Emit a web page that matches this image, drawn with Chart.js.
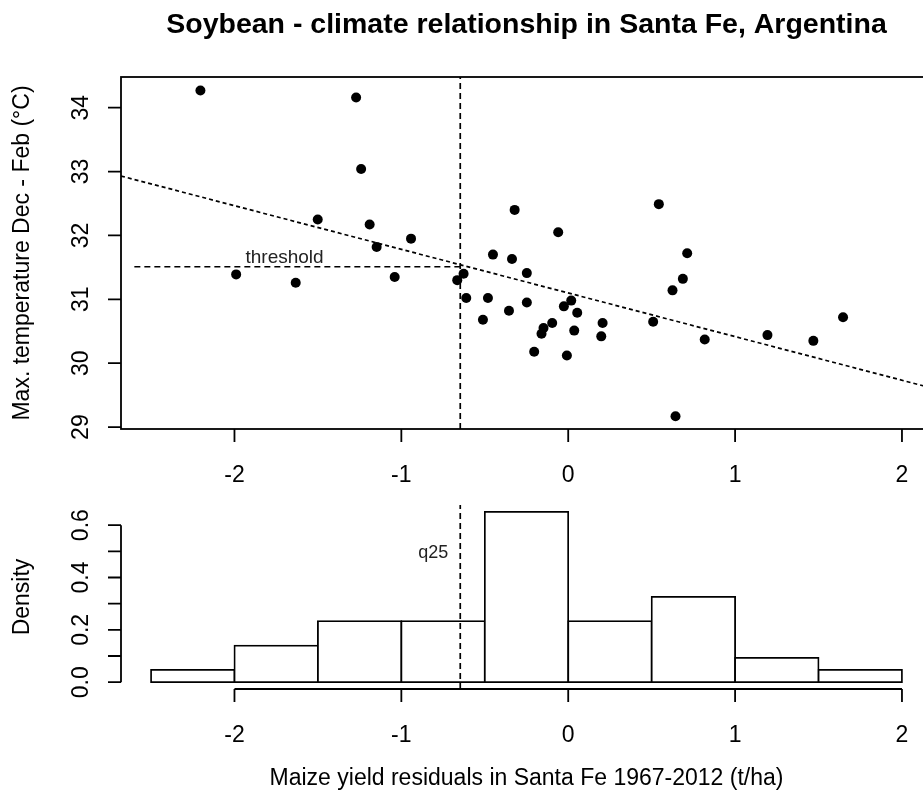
<!DOCTYPE html>
<html>
<head>
<meta charset="utf-8">
<title>Soybean - climate relationship in Santa Fe, Argentina</title>
<script src="https://cdn.jsdelivr.net/npm/chart.js@4.4.1/dist/chart.umd.min.js"></script>
<style>
  html, body { margin: 0; padding: 0; background: #fff; overflow: hidden; width: 923px; height: 808px; }
  canvas { position: absolute; left: 0; top: 0; }
</style>
</head>
<body>
<canvas id="scatter" width="940" height="808"></canvas>
<canvas id="hist" width="940" height="808"></canvas>
<script>
// Maize yield residuals (t/ha) and Dec-Feb maximum temperature (°C), one pair per season
const residuals = [
  -2.204, -1.271, -1.241, -1.501, -1.190, -1.148, -0.942, -1.990, -1.633, -1.040,
  -0.665, -0.627, -0.611, -0.481, -0.511, -0.355, -0.451, -0.337, -0.321, -0.248,
  -0.248, -0.060,  0.018, -0.026,  0.054, -0.096, -0.148, -0.160,  0.036, -0.204,
  -0.008,  0.206,  0.198,  0.543,  0.713,  0.687,  0.625,  0.509,  0.643,  0.818,
   1.194,  1.469,  1.647
];
const maxTemp = [
  34.27, 34.16, 33.04, 32.25, 32.17, 31.82, 31.95, 31.39, 31.26, 31.35,
  31.30, 31.40, 31.02, 31.02, 30.68, 30.82, 31.70, 31.63, 32.40, 31.41,
  30.95, 32.05, 30.98, 30.89, 30.79, 30.63, 30.55, 30.46, 30.51, 30.18,
  30.12, 30.63, 30.42, 32.49, 31.72, 31.32, 31.14, 30.65, 29.17, 30.37,
  30.44, 30.35, 30.72
];

// Histogram of the residuals (bin width 0.5)
const binCenters = [-2.25, -1.75, -1.25, -0.75, -0.25, 0.25, 0.75, 1.25, 1.75];
const density    = [0.047, 0.140, 0.233, 0.233, 0.651, 0.233, 0.326, 0.093, 0.047];

// Least-squares fit end points, lower-quartile residual and temperature threshold
const fitX = [-2.68, 2.18];
const fitY = [32.93, 29.61];
const q25 = -0.647;
const thresholdTemp = 31.51;
const thresholdStart = -2.60;

// Axis ranges and ticks
const xRange = [-2.68, 2.18];
const tempRange = [28.97, 34.48];
const densRange = [-0.026, 0.677];
const xTicks = [-2, -1, 0, 1, 2];
const xTickLabels = ['-2', '-1', '0', '1', '2'];
const tempTicks = [29, 30, 31, 32, 33, 34];
const tempTickLabels = ['29', '30', '31', '32', '33', '34'];
const densTicks = [0, 0.1, 0.2, 0.3, 0.4, 0.5, 0.6];
const densTickLabels = ['0.0', '', '0.2', '', '0.4', '', '0.6'];

const FONT = '"Liberation Sans", Arial, Helvetica, sans-serif';
const LW = 1.8;
const TICK = 13;

// R-style axis: a line from first to last tick, outward ticks, labels one line out
function drawBottomAxis(ctx, scale, y, ticks, labels, withLine) {
  ctx.save();
  ctx.strokeStyle = '#000';
  ctx.lineWidth = LW;
  ctx.beginPath();
  if (withLine) {
    ctx.moveTo(scale.getPixelForValue(ticks[0]), y);
    ctx.lineTo(scale.getPixelForValue(ticks[ticks.length - 1]), y);
  }
  ticks.forEach(t => {
    const px = scale.getPixelForValue(t);
    ctx.moveTo(px, y);
    ctx.lineTo(px, y + TICK);
  });
  ctx.stroke();
  ctx.fillStyle = '#000';
  ctx.font = '23px ' + FONT;
  ctx.textAlign = 'center';
  ctx.textBaseline = 'alphabetic';
  ticks.forEach((t, i) => ctx.fillText(labels[i], scale.getPixelForValue(t), y + 53));
  ctx.restore();
}

function drawLeftAxis(ctx, scale, x, ticks, labels, withLine) {
  ctx.save();
  ctx.strokeStyle = '#000';
  ctx.lineWidth = LW;
  ctx.beginPath();
  if (withLine) {
    ctx.moveTo(x, scale.getPixelForValue(ticks[0]));
    ctx.lineTo(x, scale.getPixelForValue(ticks[ticks.length - 1]));
  }
  ticks.forEach(t => {
    const py = scale.getPixelForValue(t);
    ctx.moveTo(x, py);
    ctx.lineTo(x - TICK, py);
  });
  ctx.stroke();
  ctx.fillStyle = '#000';
  ctx.font = '23px ' + FONT;
  ctx.textAlign = 'center';
  ctx.textBaseline = 'alphabetic';
  ticks.forEach((t, i) => {
    if (!labels[i]) return;
    ctx.save();
    ctx.translate(x - 33, scale.getPixelForValue(t));
    ctx.rotate(-Math.PI / 2);
    ctx.fillText(labels[i], 0, 0);
    ctx.restore();
  });
  ctx.restore();
}

function drawYTitle(ctx, text, x, yCenter) {
  ctx.save();
  ctx.fillStyle = '#000';
  ctx.font = '23px ' + FONT;
  ctx.textAlign = 'center';
  ctx.textBaseline = 'alphabetic';
  ctx.translate(x, yCenter);
  ctx.rotate(-Math.PI / 2);
  ctx.fillText(text, 0, 0);
  ctx.restore();
}

const scatterFrame = {
  id: 'scatterFrame',
  afterDatasetsDraw(chart) {
    const { ctx, chartArea: a, scales } = chart;
    ctx.save();
    ctx.strokeStyle = '#000';
    ctx.lineWidth = LW;
    ctx.strokeRect(a.left, a.top, a.right - a.left, a.bottom - a.top);
    ctx.restore();
    drawBottomAxis(ctx, scales.x, a.bottom, xTicks, xTickLabels, false);
    drawLeftAxis(ctx, scales.y, a.left, tempTicks, tempTickLabels, false);
    drawYTitle(ctx, 'Max. temperature Dec - Feb (°C)', 29, (a.top + a.bottom) / 2);

    // threshold label above the horizontal line
    ctx.save();
    ctx.fillStyle = '#222';
    ctx.font = '19px ' + FONT;
    ctx.textAlign = 'center';
    ctx.textBaseline = 'alphabetic';
    ctx.fillText('threshold', scales.x.getPixelForValue(-1.70), scales.y.getPixelForValue(thresholdTemp) - 4);
    ctx.restore();

    // main title
    ctx.save();
    ctx.fillStyle = '#000';
    ctx.font = 'bold 28.5px ' + FONT;
    ctx.textAlign = 'center';
    ctx.textBaseline = 'alphabetic';
    ctx.fillText('Soybean - climate relationship in Santa Fe, Argentina', (a.left + a.right) / 2, 33);
    ctx.restore();
  }
};

const histFrame = {
  id: 'histFrame',
  afterDatasetsDraw(chart) {
    const { ctx, chartArea: a, scales } = chart;
    drawBottomAxis(ctx, scales.x, a.bottom, xTicks, xTickLabels, true);
    drawLeftAxis(ctx, scales.y, a.left, densTicks, densTickLabels, true);
    drawYTitle(ctx, 'Density', 29, (a.top + a.bottom) / 2);

    ctx.save();
    ctx.fillStyle = '#222';
    ctx.font = '18px ' + FONT;
    ctx.textAlign = 'right';
    ctx.textBaseline = 'alphabetic';
    ctx.fillText('q25', scales.x.getPixelForValue(q25) - 12, scales.y.getPixelForValue(0.475));
    ctx.restore();

    ctx.save();
    ctx.fillStyle = '#000';
    ctx.font = '23px ' + FONT;
    ctx.textAlign = 'center';
    ctx.textBaseline = 'alphabetic';
    ctx.fillText('Maize yield residuals in Santa Fe 1967-2012 (t/ha)', (a.left + a.right) / 2, 785);
    ctx.restore();
  }
};

const common = {
  responsive: false,
  animation: false,
  devicePixelRatio: 1,
  events: [],
  plugins: { legend: { display: false }, tooltip: { enabled: false }, title: { display: false } }
};

new Chart(document.getElementById('scatter'), {
  type: 'scatter',
  data: {
    datasets: [
      {
        label: 'Seasons',
        data: residuals.map((x, i) => ({ x, y: maxTemp[i] })),
        pointRadius: 5,
        pointBackgroundColor: '#000',
        pointBorderWidth: 0,
        pointBorderColor: '#000'
      },
      {
        type: 'line',
        label: 'Linear fit',
        data: fitX.map((x, i) => ({ x, y: fitY[i] })),
        borderColor: '#000',
        borderWidth: 1.7,
        borderDash: [4, 3],
        pointRadius: 0,
        fill: false
      },
      {
        type: 'line',
        label: 'Threshold',
        data: [{ x: thresholdStart, y: thresholdTemp }, { x: q25, y: thresholdTemp }],
        borderColor: '#000',
        borderWidth: 1.7,
        borderDash: [6, 4],
        pointRadius: 0,
        fill: false
      },
      {
        type: 'line',
        label: 'q25',
        data: [{ x: q25, y: tempRange[0] }, { x: q25, y: tempRange[1] }],
        borderColor: '#000',
        borderWidth: 1.7,
        borderDash: [6, 4],
        pointRadius: 0,
        fill: false
      }
    ]
  },
  options: Object.assign({}, common, {
    layout: { padding: { left: 121, top: 77, right: 8, bottom: 379 } },
    scales: {
      x: { type: 'linear', min: xRange[0], max: xRange[1], display: false },
      y: { type: 'linear', min: tempRange[0], max: tempRange[1], display: false }
    }
  }),
  plugins: [scatterFrame]
});

new Chart(document.getElementById('hist'), {
  type: 'bar',
  data: {
    datasets: [
      {
        type: 'line',
        label: 'q25',
        data: [{ x: q25, y: densRange[0] }, { x: q25, y: densRange[1] }],
        borderColor: '#000',
        borderWidth: 1.7,
        borderDash: [6, 4],
        pointRadius: 0,
        fill: false
      },
      {
        label: 'Density',
        data: binCenters.map((x, i) => ({ x, y: density[i] })),
        backgroundColor: '#fff',
        borderColor: '#000',
        borderWidth: LW,
        borderSkipped: false,
        inflateAmount: LW / 2,
        barPercentage: 1,
        categoryPercentage: 1
      }
    ]
  },
  options: Object.assign({}, common, {
    layout: { padding: { left: 121, top: 505, right: 8, bottom: 119 } },
    scales: {
      x: { type: 'linear', min: xRange[0], max: xRange[1], offset: false, display: false },
      y: { type: 'linear', min: densRange[0], max: densRange[1], display: false }
    }
  }),
  plugins: [histFrame]
});
</script>
</body>
</html>
